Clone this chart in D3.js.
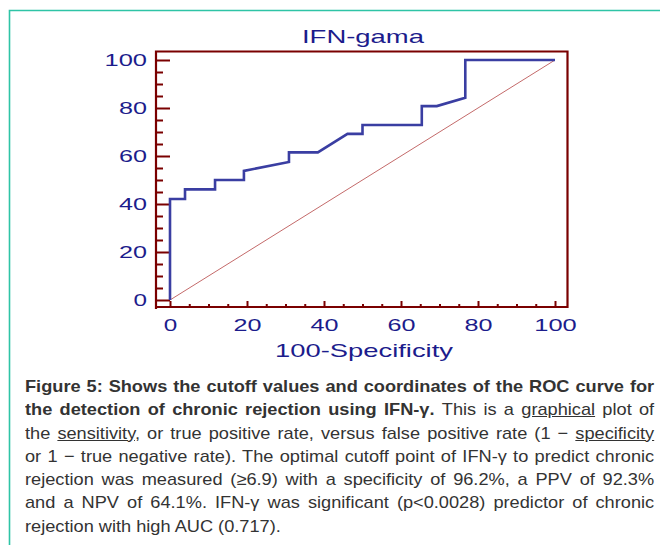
<html>
<head>
<meta charset="utf-8">
<script src="https://cdn.jsdelivr.net/npm/d3@7"></script>
<style>
body { margin: 0; background: #fff; }
#wrap { position: relative; width: 660px; height: 545px; overflow: hidden; }
svg { position: absolute; left: 0; top: 0; }
.tick text { font-family: "Liberation Sans", Arial, sans-serif; font-size: 17px; fill: #1c1c8c; }
#cap { position: absolute; left: 25px; top: 375px; width: 588px;
  transform: scaleX(1.07); transform-origin: 0 0;
  font-family: "Liberation Sans", Arial, sans-serif; font-size: 17px; line-height: 23.3px; color: #333; }
#cap div { text-align: justify; text-align-last: justify; white-space: nowrap; }
#cap div.last { text-align-last: left; }
#cap u { text-decoration: underline; }
</style>
</head>
<body onload="init()">
<div id="wrap">
<svg width="660" height="545"></svg>
<div id="cap">
<div><b>Figure 5: Shows the cutoff values and coordinates of the ROC curve for</b></div>
<div><b>the detection of chronic rejection using IFN-γ.</b> This is a <u>graphical</u> plot of</div>
<div>the <u>sensitivity</u>, or true positive rate, versus false positive rate (1 − <u>specificity</u></div>
<div>or 1 − true negative rate). The optimal cutoff point of IFN-γ to predict chronic</div>
<div>rejection was measured (≥6.9) with a specificity of 96.2%, a PPV of 92.3%</div>
<div>and a NPV of 64.1%. IFN-γ was significant (p&lt;0.0028) predictor of chronic</div>
<div class="last">rejection with high AUC (0.717).</div>
</div>
</div>
<script>
// ROC curve (100-Specificity, Sensitivity)
var rocFpr = [0, 0, 3.9, 3.9, 11.7, 11.7, 19.2, 19.2, 30.9, 30.9, 38.4, 46.1, 50, 50, 65.4, 65.4, 69.3, 76.7, 76.7, 100];
var rocTpr = [0, 42.1, 42.1, 46.1, 46.1, 50, 50, 53.8, 57.5, 61.5, 61.5, 69.2, 69.2, 72.9, 72.9, 80.8, 80.8, 84.3, 100, 100];
var majorTicks = [0, 20, 40, 60, 80, 100];
var minorTicks = [5, 10, 15, 25, 30, 35, 45, 50, 55, 65, 70, 75, 85, 90, 95];
var chartTitle = "IFN-gama";
var xTitle = "100-Specificity";

function init() {
  var svg = d3.select("svg");
  var axisCol = "#7a0000";

  var x = d3.scaleLinear().domain([0, 100]).range([170, 555]);
  var y = d3.scaleLinear().domain([0, 100]).range([300, 60]);

  // teal page frame
  svg.append("path")
    .attr("d", "M9.5,545 V10.5 H660")
    .attr("fill", "none").attr("stroke", "#2ec4a6").attr("stroke-width", 1.6);

  // title
  svg.append("text")
    .attr("x", 363).attr("y", 42.7)
    .attr("text-anchor", "middle")
    .attr("font-family", "Liberation Sans, Arial, sans-serif")
    .attr("font-size", 18.5).attr("fill", "#1c1c8c")
    .attr("textLength", 122).attr("lengthAdjust", "spacingAndGlyphs")
    .text(chartTitle);

  // minor ticks
  var gy = svg.append("g").attr("transform", "translate(156,0)");
  gy.call(d3.axisLeft(y).tickValues(minorTicks).tickSize(-7).tickFormat(""));
  var gx = svg.append("g").attr("transform", "translate(0,307)");
  gx.call(d3.axisBottom(x).tickValues(minorTicks).tickSize(-3).tickFormat(""));

  // major ticks
  var gy2 = svg.append("g").attr("transform", "translate(156,0)");
  gy2.call(d3.axisLeft(y).tickValues(majorTicks).tickSize(-14).tickPadding(9));
  var gx2 = svg.append("g").attr("transform", "translate(0,307)");
  gx2.call(d3.axisBottom(x).tickValues(majorTicks).tickSize(-6).tickPadding(0));

  svg.selectAll(".domain").remove();
  svg.selectAll(".tick line").attr("stroke", axisCol).attr("stroke-width", 2);
  svg.selectAll(".tick text")
    .attr("textLength", function(d) { return String(d).length * 14.5 - 1; })
    .attr("lengthAdjust", "spacingAndGlyphs");
  gy2.selectAll(".tick text").attr("dy", "0.35em");
  gx2.selectAll(".tick text").attr("y", 331).attr("dy", 0).attr("transform", "translate(0,-307)");

  // frame
  svg.append("path")
    .attr("d", "M156,309 V51.5 H567.5 V307 H155")
    .attr("fill", "none").attr("stroke", axisCol).attr("stroke-width", 2.2);

  // x axis title
  svg.append("text")
    .attr("x", 364).attr("y", 357)
    .attr("text-anchor", "middle")
    .attr("font-family", "Liberation Sans, Arial, sans-serif")
    .attr("font-size", 19).attr("fill", "#1c1c8c")
    .attr("textLength", 178).attr("lengthAdjust", "spacingAndGlyphs")
    .text(xTitle);

  // reference diagonal
  svg.append("line")
    .attr("x1", x(0)).attr("y1", y(0)).attr("x2", x(100)).attr("y2", y(100))
    .attr("stroke", "#c46a6a").attr("stroke-width", 1);

  // ROC curve
  var pts = rocFpr.map(function(d, i) { return [d, rocTpr[i]]; });
  svg.append("path")
    .datum(pts)
    .attr("fill", "none").attr("stroke", "#3a3ea2").attr("stroke-width", 2.6)
    .attr("stroke-linejoin", "miter")
    .attr("d", d3.line().x(function(d) { return x(d[0]); }).y(function(d) { return y(d[1]); }));
}
</script>
</body>
</html>
